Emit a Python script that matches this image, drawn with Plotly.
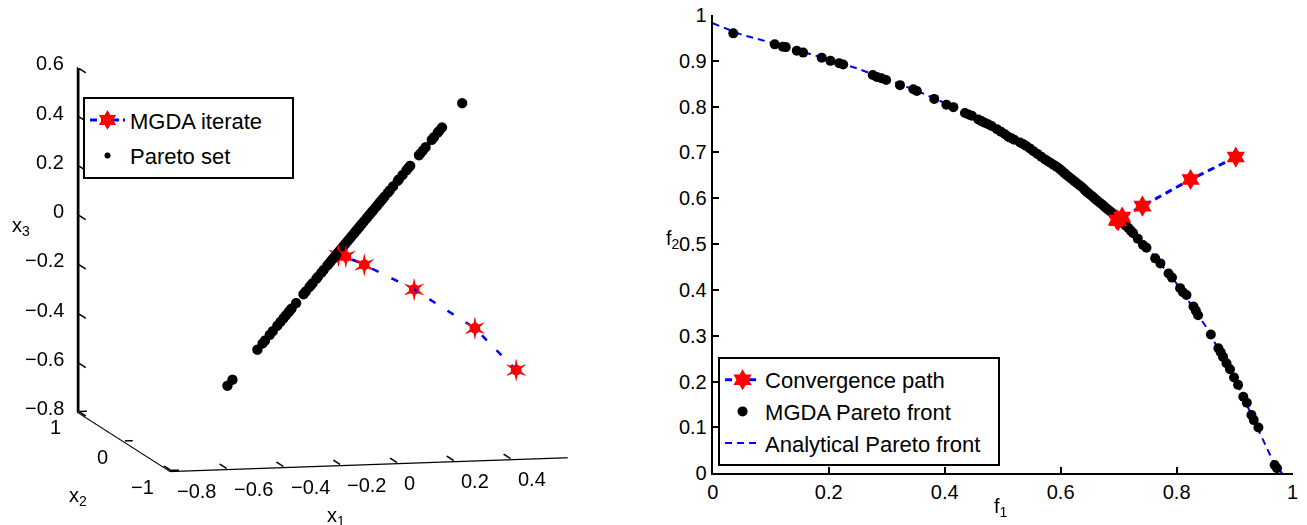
import plotly.graph_objects as go

# ---------------- data ----------------
# Left: decision space (3D)
iter_x1 = [0.5, 0.38, 0.19, 0.03, -0.03, -0.055]
iter_x2 = [-0.5, -0.344, -0.197, -0.102, -0.07, -0.065]
iter_x3 = [-0.5, -0.344, -0.197, -0.102, -0.07, -0.065]

# Pareto set lies on the diagonal x1 = x2 = x3 (positions along it)
pareto_set_t = [0.468, 0.383, 0.370, 0.365, 0.349, 0.340, 0.314, 0.302, 0.291, 0.286,
                0.249, 0.244, 0.239, 0.233, 0.217, 0.201, 0.197, 0.177, 0.163, 0.155,
                0.141, 0.133, 0.125, 0.118, 0.110, 0.104, 0.094, 0.090, 0.083, 0.076,
                0.069, 0.064, 0.054, 0.045, 0.037, 0.030, 0.023, 0.017, 0.010, 0.003,
                -0.004, -0.010, -0.017, -0.024, -0.031, -0.038, -0.045, -0.051, -0.057, -0.063,
                -0.071, -0.079, -0.086, -0.095, -0.100, -0.115, -0.125, -0.140, -0.146, -0.162,
                -0.168, -0.175, -0.190, -0.195, -0.200, -0.231, -0.250, -0.257, -0.263, -0.274,
                -0.284, -0.297, -0.310, -0.329, -0.342, -0.362, -0.372, -0.394, -0.499, -0.520]

x1_range = [-0.8, 0.6]
x2_range = [-1, 1]
x3_range = [-0.8, 0.6]
x1_ticks = [-0.8, -0.6, -0.4, -0.2, 0, 0.2, 0.4]
x1_ticklabels = ["\u22120.8", "\u22120.6", "\u22120.4", "\u22120.2", "0", "0.2", "0.4"]
x2_ticks = [-1, 0, 1]
x2_ticklabels = ["\u22121", "0", "1"]
x3_ticks = [-0.8, -0.6, -0.4, -0.2, 0, 0.2, 0.4, 0.6]
x3_ticklabels = ["\u22120.8", "\u22120.6", "\u22120.4", "\u22120.2", "0", "0.2", "0.4", "0.6"]

# Right: objective space
path_f1 = [0.902, 0.824, 0.741, 0.706, 0.699, 0.697]
path_f2 = [0.690, 0.641, 0.583, 0.559, 0.551, 0.553]

front_f1 = [0.0355, 0.107, 0.121, 0.126, 0.145, 0.156, 0.188, 0.203, 0.218, 0.225,
            0.276, 0.283, 0.291, 0.299, 0.323, 0.346, 0.352, 0.382, 0.403, 0.415,
            0.435, 0.447, 0.458, 0.469, 0.481, 0.490, 0.504, 0.510, 0.520, 0.530,
            0.540, 0.547, 0.560, 0.573, 0.583, 0.593, 0.602, 0.610, 0.619, 0.628,
            0.637, 0.645, 0.654, 0.662, 0.671, 0.679, 0.687, 0.694, 0.701, 0.708,
            0.717, 0.725, 0.733, 0.742, 0.748, 0.763, 0.772, 0.786, 0.792, 0.806,
            0.811, 0.817, 0.829, 0.833, 0.837, 0.859, 0.872, 0.876, 0.880, 0.886,
            0.892, 0.899, 0.906, 0.915, 0.921, 0.929, 0.933, 0.941, 0.969, 0.973,
            0.441, 0.4635, 0.475, 0.497, 0.515, 0.535, 0.553, 0.5665, 0.578, 0.588,
            0.598, 0.606, 0.6145, 0.6235, 0.6325, 0.641, 0.6495, 0.658, 0.6665, 0.675,
            0.683, 0.6905, 0.6975, 0.7045, 0.7125, 0.721]
front_f2 = [0.960, 0.936, 0.931, 0.930, 0.922, 0.918, 0.907, 0.900, 0.895, 0.892,
            0.869, 0.865, 0.862, 0.858, 0.847, 0.838, 0.834, 0.817, 0.804, 0.799,
            0.786, 0.780, 0.772, 0.765, 0.758, 0.751, 0.740, 0.734, 0.728, 0.722,
            0.715, 0.709, 0.697, 0.685, 0.677, 0.669, 0.660, 0.651, 0.642, 0.633,
            0.624, 0.614, 0.605, 0.596, 0.587, 0.578, 0.570, 0.562, 0.553, 0.545,
            0.535, 0.524, 0.512, 0.498, 0.492, 0.469, 0.458, 0.436, 0.427, 0.404,
            0.395, 0.389, 0.364, 0.355, 0.345, 0.303, 0.273, 0.264, 0.254, 0.240,
            0.227, 0.209, 0.193, 0.167, 0.154, 0.127, 0.116, 0.100, 0.018, 0.011,
            0.783, 0.7685, 0.7615, 0.7455, 0.731, 0.7185, 0.703, 0.691, 0.681, 0.673,
            0.6645, 0.6555, 0.6465, 0.6375, 0.6285, 0.619, 0.6095, 0.6005, 0.5915, 0.5825,
            0.574, 0.566, 0.5575, 0.549, 0.540, 0.5295]

analytic_f1 = [0.0, 0.05, 0.1, 0.15, 0.2, 0.25, 0.3, 0.35, 0.4, 0.45, 0.5, 0.55,
               0.6, 0.65, 0.7, 0.75, 0.8, 0.85, 0.9, 0.93, 0.95, 0.97, 0.982]
analytic_f2 = [0.982, 0.957, 0.940, 0.922, 0.903, 0.883, 0.860, 0.836, 0.808, 0.778, 0.743, 0.706,
               0.662, 0.614, 0.557, 0.491, 0.414, 0.321, 0.207, 0.127, 0.070, 0.016, 0.0]

# ---------------- figure ----------------
FONT = "Liberation Sans, Arial, Helvetica, sans-serif"
BLUE = "#0000ff"
RED = "#ff0000"
NB = "\u00a0"

fig = go.Figure()

# legend entry for the left panel (MGDA iterate)
fig.add_trace(go.Scatter(
    x=[None], y=[None], mode="lines+markers", name="MGDA iterate" + NB * 4,
    line=dict(color=BLUE, width=3, dash="7px,4px"),
    marker=dict(symbol="hexagram", size=15, color=RED, line=dict(width=0)),
    legend="legend", legendgroup="a", xaxis="x", yaxis="y"))

# 3D: Pareto set
fig.add_trace(go.Scatter3d(
    x=pareto_set_t, y=pareto_set_t, z=pareto_set_t, mode="markers", name="Pareto set",
    marker=dict(size=6, color="black", line=dict(width=0)),
    legend="legend", legendgroup="b", scene="scene"))

# 3D: MGDA iterates path
fig.add_trace(go.Scatter3d(
    x=iter_x1, y=iter_x2, z=iter_x3, mode="lines", showlegend=False,
    line=dict(color=BLUE, width=5, dash="longdash"), scene="scene"))
fig.add_trace(go.Scatter3d(
    x=iter_x1, y=iter_x2, z=iter_x3, mode="text", showlegend=False,
    text=["\u25cf"] * len(iter_x1), textposition="middle center",
    textfont=dict(color=RED, size=14, family="DejaVu Sans"), scene="scene"))
fig.add_trace(go.Scatter3d(
    x=iter_x1, y=iter_x2, z=iter_x3, mode="text", showlegend=False,
    text=["\u2736"] * len(iter_x1), textposition="middle center",
    textfont=dict(color=RED, size=32, family="DejaVu Sans"), scene="scene"))

# 3D: MATLAB-style axis frame (x3 edge) and tick marks, kept just inside the box
eps1, eps2, eps3 = 0.004, 0.006, 0.004
a1 = x1_range[0] + eps1
a2lo, a2hi = x2_range[0] + eps2, x2_range[1] - eps2
a3 = x3_range[0] + eps3
fx, fy, fz = [a1, a1], [a2hi, a2hi], [x3_range[0] + eps3, x3_range[1] - eps3]
for v in x3_ticks:
    vv = min(max(v, x3_range[0] + eps3), x3_range[1] - eps3)
    fx += [None, a1, a1]
    fy += [None, a2hi, a2hi - 0.15]
    fz += [None, vv, vv]
for v in x1_ticks:
    vv = max(v, a1)
    fx += [None, vv, vv]
    fy += [None, a2lo, a2lo + 0.15]
    fz += [None, a3, a3]
for v in x2_ticks:
    vv = min(max(v, a2lo), a2hi)
    fx += [None, a1, a1 + 0.028]
    fy += [None, vv, vv]
    fz += [None, a3, a3]
fig.add_trace(go.Scatter3d(
    x=fx, y=fy, z=fz, mode="lines", showlegend=False, hoverinfo="skip",
    line=dict(color="black", width=3), scene="scene"))

# 2D: analytical front
fig.add_trace(go.Scatter(
    x=analytic_f1, y=analytic_f2, mode="lines", name="Analytical Pareto front" + NB * 2,
    line=dict(color=BLUE, width=2, dash="7px,5px"),
    legend="legend2", legendgroup="c", xaxis="x", yaxis="y", legendrank=3))
# 2D: MGDA front
fig.add_trace(go.Scatter(
    x=front_f1, y=front_f2, mode="markers", name="MGDA Pareto front",
    marker=dict(size=10, color="black", line=dict(width=0)),
    legend="legend2", legendgroup="d", xaxis="x", yaxis="y", legendrank=2))
# 2D: convergence path
fig.add_trace(go.Scatter(
    x=path_f1, y=path_f2, mode="lines+markers", name="Convergence path",
    line=dict(color=BLUE, width=3, dash="7px,5px"),
    marker=dict(symbol="hexagram", size=16, color=RED, line=dict(width=0)),
    legend="legend2", legendgroup="e", xaxis="x", yaxis="y", legendrank=1))

ax3 = dict(showbackground=False, showgrid=False, zeroline=False, showline=True,
           linecolor="black", linewidth=2.5, ticks="", showspikes=False,
           title=dict(text=""), showticklabels=False)

k = 1.555
eye = dict(x=-0.2245, y=-0.963, z=0.149)

# tick labels placed in data coordinates of the 3D scene
tick_font = dict(family=FONT, size=20, color="black")
scene_ann = []
for v, s in zip(x1_ticks, x1_ticklabels):
    scene_ann.append(dict(x=v, y=x2_range[0], z=x3_range[0], text=s, showarrow=False,
                          xanchor="left", yanchor="middle", xshift=5, yshift=-19, font=tick_font))
for v, s in zip(x2_ticks, x2_ticklabels):
    scene_ann.append(dict(x=x1_range[0], y=v, z=x3_range[0], text=s, showarrow=False,
                          xanchor="right", yanchor="middle", xshift=-14, yshift=-15, font=tick_font))
for v, s in zip(x3_ticks, x3_ticklabels):
    scene_ann.append(dict(x=x1_range[0], y=x2_range[1], z=v, text=s, showarrow=False,
                          xanchor="right", yanchor="middle", xshift=-11, yshift=4, font=tick_font))

fig.update_layout(
    width=1307, height=525,
    paper_bgcolor="white", plot_bgcolor="white",
    margin=dict(l=0, r=0, t=0, b=0, autoexpand=False),
    font=dict(family=FONT, size=20, color="black"),
    scene=dict(
        domain=dict(x=[0.0, 0.4935], y=[0.0, 1.0]),
        xaxis=dict(ax3, range=x1_range, tickvals=x1_ticks),
        yaxis=dict(ax3, range=x2_range, tickvals=x2_ticks),
        zaxis=dict(ax3, range=x3_range, tickvals=x3_ticks),
        aspectmode="manual", aspectratio=dict(x=1 * k, y=1 * k, z=0.855 * k),
        camera=dict(eye=eye, up=dict(x=0, y=0, z=1), center=dict(x=0, y=0, z=0),
                    projection=dict(type="orthographic")),
        bgcolor="white",
        annotations=scene_ann,
    ),
    xaxis=dict(domain=[0.5453, 0.9890], range=[0, 1], dtick=0.2, tick0=0,
               showline=True, linecolor="black", linewidth=2, mirror=False,
               ticks="inside", ticklen=6, tickwidth=2, tickcolor="black",
               showgrid=False, zeroline=False, anchor="y", automargin=False,
               tickfont=dict(family=FONT, size=20, color="black")),
    yaxis=dict(domain=[0.0985, 0.9714], range=[0, 1], dtick=0.1, tick0=0,
               showline=True, linecolor="black", linewidth=2, mirror=False,
               ticks="inside", ticklen=6, tickwidth=2, tickcolor="black",
               showgrid=False, zeroline=False, anchor="x", automargin=False,
               tickfont=dict(family=FONT, size=20, color="black")),
    legend=dict(x=0.0635, y=0.815, xanchor="left", yanchor="top",
                bordercolor="black", borderwidth=2, bgcolor="white",
                font=dict(family=FONT, size=22, color="black"),
                tracegroupgap=4, itemwidth=35),
    legend2=dict(x=0.5494, y=(525 - 466) / 525, xanchor="left", yanchor="bottom",
                 bordercolor="black", borderwidth=2, bgcolor="white",
                 font=dict(family=FONT, size=22, color="black"),
                 tracegroupgap=0, itemwidth=35),
    annotations=[
        dict(text="x<sub>1</sub>", x=0.2487, y=-0.011, xref="paper", yref="paper",
             showarrow=False, font=dict(family=FONT, size=20)),
        dict(text="x<sub>2</sub>", x=0.0513, y=0.0264, xref="paper", yref="paper",
             showarrow=False, font=dict(family=FONT, size=20)),
        dict(text="x<sub>3</sub>", x=0.0077, y=0.5677, xref="paper", yref="paper",
             showarrow=False, font=dict(family=FONT, size=20)),
        dict(text="f<sub>1</sub>", x=0.7728, y=0.0055, xref="paper", yref="paper",
             showarrow=False, font=dict(family=FONT, size=20)),
        dict(text="f<sub>2</sub>", x=0.515, y=0.543, xref="paper", yref="paper",
             showarrow=False, font=dict(family=FONT, size=20)),
    ],
)

fig.write_html("out.html", config={"displayModeBar": False},
               post_script="document.body.style.margin='0px';")
